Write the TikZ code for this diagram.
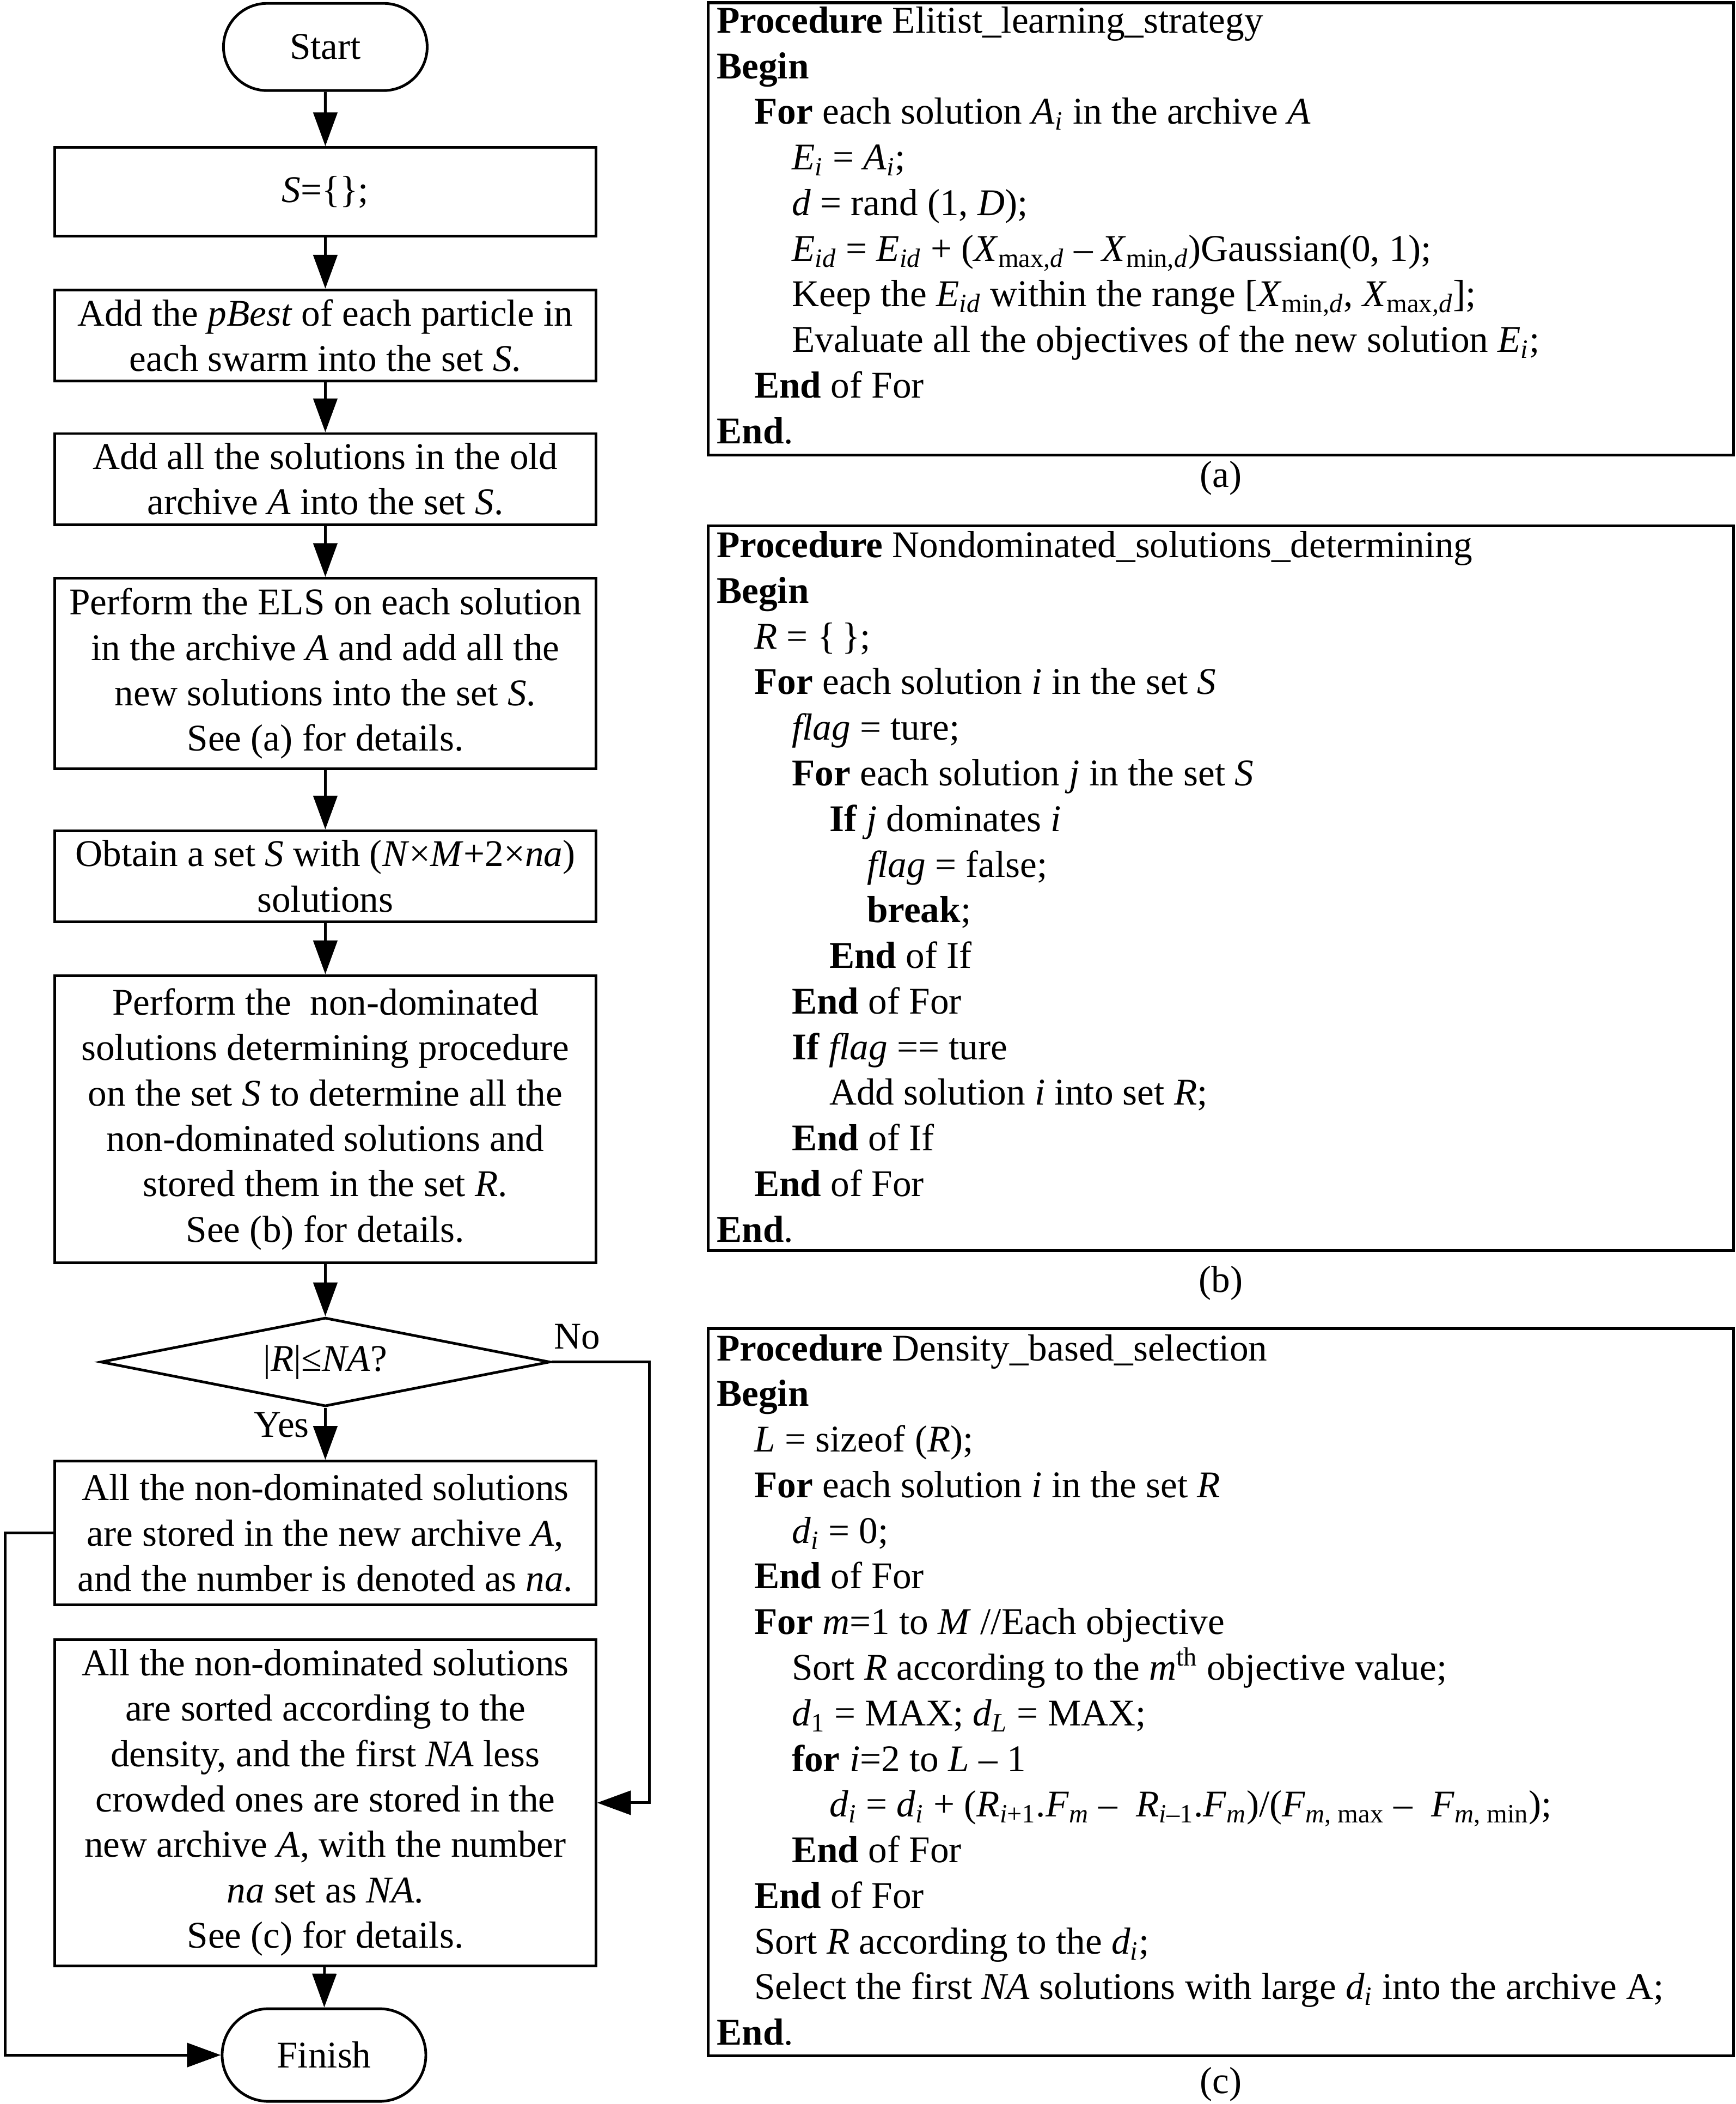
\documentclass[tikz,border=0pt]{standalone}
\usepackage{fontspec}
\setmainfont{Liberation Serif}
\usepackage{tikz}
\usetikzlibrary{arrows.meta,shapes.geometric,shapes.misc}
\newcommand{\txtfont}{\fontsize{19.7}{23.7}\selectfont}
\newcommand{\subtxt}[1]{\textsubscript{#1}}
\newcommand{\suptxt}[1]{\textsuperscript{#1}}

\begin{document}
\begin{tikzpicture}[x=0.2463mm,y=-0.2463mm,
  every node/.style={font=\txtfont},
  terminal/.style={draw,rounded rectangle,line width=1.4pt,minimum width=37.4mm,minimum height=16mm,inner sep=0},
  procbox/.style={draw,rectangle,line width=1.4pt,minimum width=99.3mm,align=center,inner sep=0},
  decision/.style={draw,diamond,aspect=5,line width=1.4pt,minimum width=82.5mm,minimum height=16.3mm,inner sep=0},
  listbox/.style={draw,rectangle,line width=1.5pt,minimum width=188.2mm,inner sep=0},
  code/.style={anchor=base west,inner sep=0},
  arr/.style={line width=1.4pt,-{Triangle[length=6.2mm,width=4.4mm]}}]
\useasboundingbox (0,0) rectangle (1294,1568);
% flowchart
\node[terminal] (start) at (242.5,35) {Start};
\node[procbox,minimum height=16.3mm] (init) at (242.5,143) {\textit{S}=\{\};};
\node[procbox,minimum height=16.7mm] (addp) at (242.5,250) {Add the \textit{pBest} of each particle in\\each swarm into the set \textit{S}.};
\node[procbox,minimum height=16.7mm] (adda) at (242.5,357) {Add all the solutions in the old\\archive \textit{A} into the set \textit{S}.};
\node[procbox,minimum height=35mm] (els) at (242.5,502) {Perform the ELS on each solution\\in the archive \textit{A} and add all the\\new solutions into the set \textit{S}.\\See (a) for details.};
\node[procbox,minimum height=16.7mm] (obtain) at (242.5,653) {Obtain a set \textit{S} with (\textit{N}×\textit{M}+2×\textit{na})\\solutions};
\node[procbox,minimum height=52.7mm] (nondom) at (242.5,834) {Perform the\ \ non-dominated\\solutions determining procedure\\on the set \textit{S} to determine all the\\non-dominated solutions and\\stored them in the set \textit{R}.\\See (b) for details.};
\node[decision] (check) at (242.5,1015) {|\textit{R}|≤\textit{NA}?};
\node[procbox,minimum height=26.4mm] (store) at (242.5,1142.5) {All the non-dominated solutions\\are stored in the new archive \textit{A},\\and the number is denoted as \textit{na}.};
\node[procbox,minimum height=59.9mm] (sortd) at (242.5,1343.5) {All the non-dominated solutions\\are sorted according to the\\density, and the first \textit{NA} less\\crowded ones are stored in the\\new archive \textit{A}, with the number\\\textit{na} set as \textit{NA}.\\See (c) for details.};
\node[terminal,minimum height=17mm] (finish) at (241.5,1531.5) {Finish};
\node (yes) at (210,1062) {Yes};
\node (no) at (430,996) {No};

\draw[arr] (start) -- (init);
\draw[arr] (init) -- (addp);
\draw[arr] (addp) -- (adda);
\draw[arr] (adda) -- (els);
\draw[arr] (els) -- (obtain);
\draw[arr] (obtain) -- (nondom);
\draw[arr] (nondom) -- (check);
\draw[arr] (check) -- (store);
\draw[arr] (check.east) -- ++(73,0) |- (sortd.east);
\draw[arr] (sortd) -- (finish);
\draw[arr] (store.west) -- ++(-36,0) |- (finish.west);

% (a) elitist learning
\node[listbox,minimum height=83mm] (boxa) at (910,170.5) {};
\node[code] (a1) at (534,24.5) {\textbf{Procedure} Elitist\_learning\_strategy};
\node[code] (a2) at (534,58.5) {\textbf{Begin}};
\node[code] (a3) at (562,92.5) {\textbf{For} each solution \textit{A}\subtxt{\textit{i}} in the archive \textit{A}};
\node[code] (a4) at (590,126.5) {\textit{E}\subtxt{\textit{i}} = \textit{A}\subtxt{\textit{i}};};
\node[code] (a5) at (590,160.5) {\textit{d} = rand (1, \textit{D});};
\node[code] (a6) at (590,194.5) {\textit{E}\subtxt{\textit{id}} = \textit{E}\subtxt{\textit{id}} + (\textit{X}\subtxt{max,\textit{d}} – \textit{X}\subtxt{min,\textit{d}})Gaussian(0, 1);};
\node[code] (a7) at (590,228.5) {Keep the \textit{E}\subtxt{\textit{id}} within the range [\textit{X}\subtxt{min,\textit{d}}, \textit{X}\subtxt{max,\textit{d}}];};
\node[code] (a8) at (590,262.5) {Evaluate all the objectives of the new solution \textit{E}\subtxt{\textit{i}};};
\node[code] (a9) at (562,296.5) {\textbf{End} of For};
\node[code] (a10) at (534,330.5) {\textbf{End}.};
\node[anchor=base] (capa) at (910,363) {(a)};

% (b) nondominated solutions
\node[listbox,minimum height=133mm] (boxb) at (910,662) {};
\node[code] (b1) at (534,415.5) {\textbf{Procedure} Nondominated\_solutions\_determining};
\node[code] (b2) at (534,449.5) {\textbf{Begin}};
\node[code] (b3) at (562,483.5) {\textit{R} = \{\,\};};
\node[code] (b4) at (562,517.5) {\textbf{For} each solution \textit{i} in the set \textit{S}};
\node[code] (b5) at (590,551.5) {\textit{flag} = ture;};
\node[code] (b6) at (590,585.5) {\textbf{For} each solution \textit{j} in the set \textit{S}};
\node[code] (b7) at (618,619.5) {\textbf{If} \textit{j} dominates \textit{i}};
\node[code] (b8) at (646,653.5) {\textit{flag} = false;};
\node[code] (b9) at (646,687.5) {\textbf{break};};
\node[code] (b10) at (618,721.5) {\textbf{End} of If};
\node[code] (b11) at (590,755.5) {\textbf{End} of For};
\node[code] (b12) at (590,789.5) {\textbf{If} \textit{flag} == ture};
\node[code] (b13) at (618,823.5) {Add solution \textit{i} into set \textit{R};};
\node[code] (b14) at (590,857.5) {\textbf{End} of If};
\node[code] (b15) at (562,891.5) {\textbf{End} of For};
\node[code] (b16) at (534,925.5) {\textbf{End}.};
\node[anchor=base] (capb) at (910,963) {(b)};

% (c) density based selection
\node[listbox,minimum height=133.5mm] (boxc) at (910,1261) {};
\node[code] (c1) at (534,1014) {\textbf{Procedure} Density\_based\_selection};
\node[code] (c2) at (534,1048) {\textbf{Begin}};
\node[code] (c3) at (562,1082) {\textit{L} = sizeof (\textit{R});};
\node[code] (c4) at (562,1116) {\textbf{For} each solution \textit{i} in the set \textit{R}};
\node[code] (c5) at (590,1150) {\textit{d}\subtxt{\textit{i}} = 0;};
\node[code] (c6) at (562,1184) {\textbf{End} of For};
\node[code] (c7) at (562,1218) {\textbf{For} \textit{m}=1 to \textit{M} //Each objective};
\node[code] (c8) at (590,1252) {Sort \textit{R} according to the \textit{m}\suptxt{th} objective value;};
\node[code] (c9) at (590,1286) {\textit{d}\subtxt{1} = MAX; \textit{d}\subtxt{\textit{L}} = MAX;};
\node[code] (c10) at (590,1320) {\textbf{for} \textit{i}=2 to \textit{L} – 1};
\node[code] (c11) at (618,1354) {\textit{d}\subtxt{\textit{i}} = \textit{d}\subtxt{\textit{i}} + (\textit{R}\subtxt{\textit{i}+1}.\textit{F}\subtxt{\textit{m}} –\ \ \textit{R}\subtxt{\textit{i}–1}.\textit{F}\subtxt{\textit{m}})/(\textit{F}\subtxt{\textit{m}, max} –\ \ \textit{F}\subtxt{\textit{m}, min});};
\node[code] (c12) at (590,1388) {\textbf{End} of For};
\node[code] (c13) at (562,1422) {\textbf{End} of For};
\node[code] (c14) at (562,1456) {Sort \textit{R} according to the \textit{d}\subtxt{\textit{i}};};
\node[code] (c15) at (562,1490) {Select the first \textit{NA} solutions with large \textit{d}\subtxt{\textit{i}} into the archive A;};
\node[code] (c16) at (534,1524) {\textbf{End}.};
\node[anchor=base] (capc) at (910,1560) {(c)};
\end{tikzpicture}
\end{document}
